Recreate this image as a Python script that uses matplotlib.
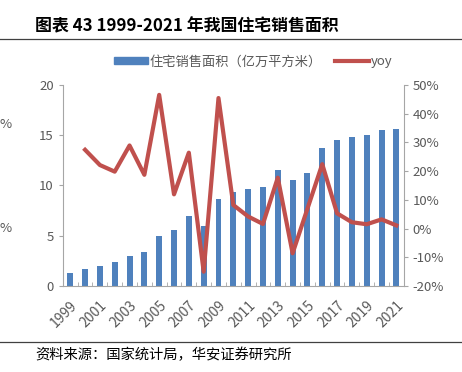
import numpy as np
import matplotlib
matplotlib.use('Agg')
from matplotlib import pyplot as plt
from matplotlib.patches import Patch
from matplotlib.lines import Line2D

plt.rcParams['font.family'] = ['Noto Sans CJK SC', 'DejaVu Sans']

years = [str(y) for y in range(1999, 2022)]
area = [1.29, 1.66, 1.99, 2.37, 2.97, 3.38, 4.95, 5.54, 7.01, 5.93, 8.62, 9.31,
        9.65, 9.85, 11.57, 10.52, 11.24, 13.75, 14.48, 14.79, 15.01, 15.49, 15.65]
yoy = [np.nan, 27.4, 22.1, 19.8, 28.9, 18.7, 46.5, 11.9, 26.4, -15.0, 45.4, 8.2,
       4.2, 1.6, 17.7, -8.6, 6.9, 22.4, 5.3, 2.2, 1.5, 3.2, 1.1]

bar_color = '#4F81BD'
line_color = '#C0504D'
grey = '#595959'

fig = plt.figure(figsize=(4.62, 3.72), dpi=100)
ax = fig.add_axes([0.136, 0.231, 0.738, 0.541])
x = np.arange(len(years))

# bars on left axis
ax.bar(x, area, width=0.4, color=bar_color, zorder=2)
ax.set_ylim(0, 20)
ax.set_yticks([0, 5, 10, 15, 20])
ax.set_xlim(-0.5, len(years) - 0.5)
ax.set_xticks(x[::2])
ax.set_xticklabels(years[::2], rotation=45, ha='right', rotation_mode='anchor')
ax.set_xticks(np.arange(-0.5, len(years), 1), minor=True)
ax.tick_params(axis='x', which='major', length=0, pad=9, labelsize=10, colors=grey)
ax.tick_params(axis='x', which='minor', length=3, direction='in', color='#a6a6a6')
ax.tick_params(axis='y', length=3, labelsize=9.5, colors=grey, color='#a6a6a6')
for lbl in ax.get_xticklabels():
    lbl.set_x(lbl.get_position()[0])

# yoy on right axis
ax2 = ax.twinx()
ax2.plot(x, yoy, color=line_color, lw=3, zorder=3)
ax2.set_ylim(-20, 50)
ax2.set_yticks(np.arange(-20, 51, 10))
ax2.set_yticklabels([f'{v}%' for v in range(-20, 51, 10)])
ax2.tick_params(axis='y', length=3, labelsize=9.5, colors=grey, color='#a6a6a6')

for a in (ax, ax2):
    a.spines['top'].set_visible(False)
    for s in ('left', 'right', 'bottom'):
        a.spines[s].set_color('#a6a6a6')
ax.spines['right'].set_visible(False)
ax2.spines['left'].set_visible(False)
ax2.spines['bottom'].set_visible(False)

handles = [Patch(color=bar_color), Line2D([], [], color=line_color, lw=3)]
fig.legend(handles, ['住宅销售面积（亿万平方米）', 'yoy'], loc='center',
           bbox_to_anchor=(0.548, 0.834), ncol=2, frameon=False, fontsize=9.5,
           handlelength=2.6, handleheight=0.45, handletextpad=0.1,
           columnspacing=1.0, labelcolor=grey)

# title, rules and source
fig.text(0.076, 0.93, '图表 43 1999-2021 年我国住宅销售面积', fontsize=12.2,
         fontweight='bold', va='center', ha='left', color='black')
fig.add_artist(Line2D([0, 1], [1 - 39 / 372] * 2, color='#404040', lw=0.9))
fig.add_artist(Line2D([0, 1], [1 - 342 / 372] * 2, color='#404040', lw=0.9))
fig.text(0.076, 1 - 355 / 372, '资料来源：国家统计局，华安证券研究所', fontsize=10.3,
         va='center', ha='left', color='black')

# edge fragments of the neighbouring chart
fig.text(0.0, 1 - 125 / 372, '%', fontsize=9.5, color=grey, va='center')
fig.text(0.0, 1 - 228 / 372, '%', fontsize=9.5, color=grey, va='center')

fig.savefig('out.png', dpi=100)
